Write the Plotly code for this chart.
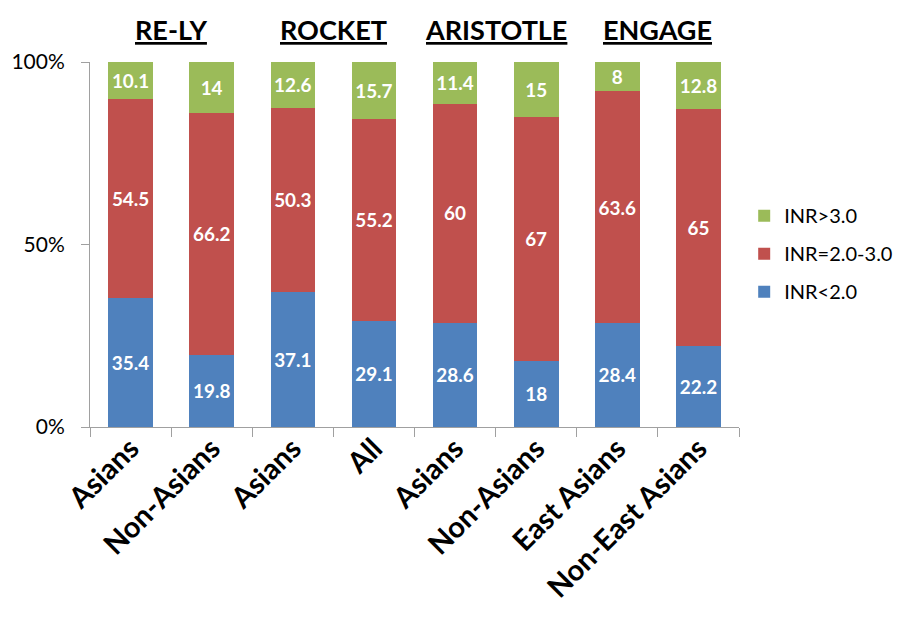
import plotly.graph_objects as go

categories = ["Asians", "Non-Asians", "Asians", "All", "Asians", "Non-Asians", "East Asians", "Non-East Asians"]
inr_low = [35.4, 19.8, 37.1, 29.1, 28.6, 18, 28.4, 22.2]
inr_mid = [54.5, 66.2, 50.3, 55.2, 60, 67, 63.6, 65]
inr_high = [10.1, 14, 12.6, 15.7, 11.4, 15, 8, 12.8]
trials = ["RE-LY", "ROCKET", "ARISTOTLE", "ENGAGE"]
y_ticks = [0, 50, 100]
y_tick_labels = ["0%", "50%", "100%"]

FONT = "Lato"
x = [str(i) for i in range(len(categories))]

fig = go.Figure()
series = [
    ("INR<2.0", inr_low, "#4F81BD", 3),
    ("INR=2.0-3.0", inr_mid, "#C0504D", 2),
    ("INR>3.0", inr_high, "#9BBB59", 1),
]
for name, vals, color, rank in series:
    fig.add_trace(go.Bar(
        x=x, y=vals, name=name, legendgroup=name, legendrank=rank,
        marker_color=color, marker_line_width=0,
        text=[f"{v:g}" for v in vals], textposition="inside", insidetextanchor="middle",
        textfont=dict(family=FONT, size=22, color="white", weight="bold"),
        textangle=0,
    ))

for i, t in enumerate(trials):
    fig.add_annotation(
        x=2 * i + 0.5, y=1.0, xref="x", yref="paper", yanchor="bottom", yshift=14,
        text=f"<u><b>{t}</b></u>", showarrow=False,
        font=dict(family=FONT, size=27, color="black"),
    )

fig.update_layout(
    width=902, height=623,
    barmode="stack", bargap=0.45,
    plot_bgcolor="white", paper_bgcolor="white",
    margin=dict(l=82, r=169, t=54, b=204),
    showlegend=True,
    uniformtext=dict(minsize=10, mode="show"),
    legend=dict(
        x=1.008, y=0.475, xanchor="left", yanchor="middle", traceorder="grouped",
        font=dict(family=FONT, size=20, color="black"), itemsizing="constant",
        tracegroupgap=9,
    ),
    xaxis=dict(
        type="category", tickmode="array", tickvals=x,
        ticktext=[f"<b>{c}</b>" for c in categories],
        tickangle=-45, tickfont=dict(family=FONT, size=29, color="black"),
        showline=True, linecolor="#A0A0A0", linewidth=1, ticks="outside", tickson="boundaries",
        ticklen=9, tickcolor="#A0A0A0", range=[-0.5, 7.5], ticklabelstandoff=-8,
        showgrid=False, automargin=False,
    ),
    yaxis=dict(
        range=[0, 100], tickvals=y_ticks, ticktext=y_tick_labels,
        tickfont=dict(family=FONT, size=21, color="black"),
        showline=True, linecolor="#A0A0A0", linewidth=1, ticks="outside", ticklen=8,
        tickcolor="#A0A0A0", showgrid=False, zeroline=False, ticklabelstandoff=12,
        automargin=False,
    ),
)
fig.write_html("out.html")
